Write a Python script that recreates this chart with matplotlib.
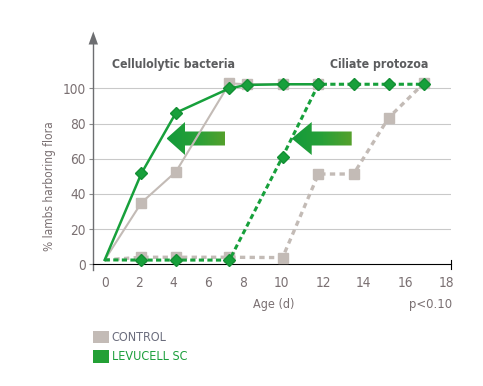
import numpy as np
import matplotlib
matplotlib.use("Agg")
import matplotlib.pyplot as plt
from matplotlib import font_manager as fm
from matplotlib.patches import Polygon, Patch
from matplotlib.transforms import Affine2D

# ---------------- data ----------------
CELL_CONTROL_X = [0, 2.14, 4.13, 7.23, 8.22, 10.06, 11.77]
CELL_CONTROL_Y = [2.5, 35, 52.6, 102.8, 102.3, 102.3, 102.3]
CELL_LEVU_X = [0, 2.14, 4.13, 7.23, 8.22, 10.06, 11.77]
CELL_LEVU_Y = [2.5, 51.7, 86.1, 100, 101.9, 102.3, 102.3]
CIL_CONTROL_X = [0, 2.14, 4.13, 7.23, 10.06, 11.77, 13.5, 15.2, 16.9]
CIL_CONTROL_Y = [2.5, 4, 4, 4, 3.8, 51.3, 51.3, 83.3, 102.8]
CIL_LEVU_X = [0, 2.14, 4.13, 7.23, 10.06, 11.77, 13.5, 15.2, 16.9]
CIL_LEVU_Y = [2.5, 2.4, 2.4, 2.4, 61.1, 102.3, 102.3, 102.3, 102.3]
X_TICKS = [0, 2, 4, 6, 8, 10, 12, 14, 16, 18]
Y_TICKS = [0, 20, 40, 60, 80, 100]
LEGEND_LABELS = ["CONTROL", "LEVUCELL SC"]
TITLE_LEFT = "Cellulolytic bacteria"
TITLE_RIGHT = "Ciliate protozoa"

# ---------------- style ----------------
W, H = 483, 386
GRAY = "#c3bbb6"
GREEN = "#17a03b"
GREEN_DARK = "#138f34"
TEXT = "#7a7072"
TITLE_C = "#5b5c5e"

# pick a narrow font if available
names = {f.name for f in fm.fontManager.ttflist}
stretches = {(f.name, f.stretch) for f in fm.fontManager.ttflist}
FONT = dict(family="DejaVu Sans")
if "Liberation Sans Narrow" in names:
    FONT = dict(family="Liberation Sans Narrow")
elif any(n == "DejaVu Sans" and s == "condensed" for n, s in stretches):
    FONT = dict(family="DejaVu Sans", stretch="condensed")
elif "Roboto Condensed" in names:
    FONT = dict(family="Roboto Condensed")

# tick positions in the reference are not evenly spaced: piecewise scale
TICK_PX = np.array([104.7, 139, 173.7, 208.3, 242.7, 281.3, 323.3, 363.7, 405.3, 446.3])
TV = np.array(X_TICKS, float)


def fwd(x):
    x = np.asarray(x, float)
    s0 = (TICK_PX[1] - TICK_PX[0]) / (TV[1] - TV[0])
    s1 = (TICK_PX[-1] - TICK_PX[-2]) / (TV[-1] - TV[-2])
    return np.where(x < TV[0], TICK_PX[0] + (x - TV[0]) * s0,
                    np.where(x > TV[-1], TICK_PX[-1] + (x - TV[-1]) * s1,
                             np.interp(x, TV, TICK_PX)))


def inv(p):
    p = np.asarray(p, float)
    s0 = (TICK_PX[1] - TICK_PX[0]) / (TV[1] - TV[0])
    s1 = (TICK_PX[-1] - TICK_PX[-2]) / (TV[-1] - TV[-2])
    return np.where(p < TICK_PX[0], TV[0] + (p - TICK_PX[0]) / s0,
                    np.where(p > TICK_PX[-1], TV[-1] + (p - TICK_PX[-1]) / s1,
                             np.interp(p, TICK_PX, TV)))


fig = plt.figure(figsize=(W / 100, H / 100), dpi=100)
ax_l, ax_r, ax_b, ax_t = 93.3, 451, 264.3, 44
ax = fig.add_axes([ax_l / W, (H - ax_b) / H, (ax_r - ax_l) / W, (ax_b - ax_t) / H])
ax.set_xscale("function", functions=(fwd, inv))

# pixel transform (top-left origin)
PIX = Affine2D().scale(1 / W, -1 / H).translate(0, 1) + fig.transFigure

# grid
for y in Y_TICKS[1:]:
    ax.axhline(y, color="#c9c9c9", lw=0.8, zorder=1)


# arrows with gradient
def grad_arrow(tip, back, tail, yc, hh=16.5, sh=7):
    pts = [(tip, yc), (back, yc - hh), (back, yc - sh), (tail, yc - sh),
           (tail, yc + sh), (back, yc + sh), (back, yc + hh)]
    poly = Polygon(pts, closed=True, transform=PIX, facecolor="none",
                   edgecolor="none")
    ax.add_patch(poly)
    grad = np.linspace(0, 1, 100)[None, :]
    cmap = matplotlib.colors.LinearSegmentedColormap.from_list(
        "g", ["#139a3a", "#27a038", "#55a02c"])
    im = ax.imshow(grad, cmap=cmap, aspect="auto",
                   extent=(tip, tail, yc + hh, yc - hh), transform=PIX,
                   zorder=2, interpolation="bilinear")
    im.set_clip_path(poly)


grad_arrow(166.5, 185, 225, 138.5)
grad_arrow(291.7, 311.7, 351.7, 138.5)
ax.set_xlim(inv(ax_l), inv(ax_r))
ax.set_ylim(0, (ax_b - ax_t) / 1.76)

# series
ax.plot(CELL_CONTROL_X, CELL_CONTROL_Y, color=GRAY, lw=1.5, marker="s",
        ms=6.7, mfc=GRAY, mec=GRAY, markevery=list(range(1, len(CELL_CONTROL_X))),
        zorder=3, clip_on=False)
ln = ax.plot(CIL_CONTROL_X, CIL_CONTROL_Y, color=GRAY, lw=2.4, marker="s",
             ms=6.7, mfc=GRAY, mec=GRAY, markevery=list(range(1, len(CIL_CONTROL_X))),
             zorder=3, clip_on=False)[0]
ln.set_dashes((1.6, 1.3))
ax.plot(CELL_LEVU_X, CELL_LEVU_Y, color=GREEN, lw=1.8, marker="D",
        ms=5.8, mfc=GREEN, mec=GREEN_DARK, markevery=list(range(1, len(CELL_LEVU_X))),
        zorder=5, clip_on=False)
ln = ax.plot(CIL_LEVU_X, CIL_LEVU_Y, color=GREEN, lw=2.2, marker="D",
             ms=5.8, mfc=GREEN, mec=GREEN_DARK, markevery=list(range(1, len(CIL_LEVU_X))),
             zorder=4, clip_on=False)[0]
ln.set_dashes((1.7, 1.1))

# axes styling
for s in ["top", "right"]:
    ax.spines[s].set_visible(False)
ax.spines["bottom"].set_color("black")
ax.spines["bottom"].set_linewidth(0.8)
ax.spines["left"].set_color("#6d6e71")
ax.spines["left"].set_linewidth(1.0)
ax.spines["left"].set_bounds(-3.4, (ax_b - ax_t) / 1.76)
ax.add_patch(Polygon([(88.6, 44.5), (98.0, 44.5), (93.3, 31.5)], closed=True,
                     transform=PIX, facecolor="#6d6e71", edgecolor="none",
                     clip_on=False))
ax.plot([451, 451], [259.5, 268.5], color="black", lw=0.8, transform=PIX,
        clip_on=False)

ax.set_xticks(X_TICKS)
ax.set_xticklabels([str(v) for v in X_TICKS])
ax.set_yticks(Y_TICKS)
ax.set_yticklabels([str(v) for v in Y_TICKS])
ax.xaxis.set_minor_locator(matplotlib.ticker.NullLocator())
ax.tick_params(axis="x", length=0, pad=8.5, labelcolor=TEXT)
ax.tick_params(axis="y", length=3, width=0.8, color="#8a8a8a", pad=2.5,
               labelcolor=TEXT)
for t in ax.get_xticklabels() + ax.get_yticklabels():
    t.set_fontproperties(fm.FontProperties(size=9.8, **FONT))

fig.text(49 / W, 1 - 186.5 / H, "% lambs harboring flora", rotation=90,
         ha="center", va="center", color=TEXT, fontsize=8.6, **FONT)
fig.text(273.3 / W, 1 - 304.3 / H, "Age (d)", ha="center", va="center",
         color=TEXT, fontsize=9, **FONT)
fig.text(451.7 / W, 1 - 304.3 / H, "p<0.10", ha="right", va="center",
         color=TEXT, fontsize=9.4, **FONT)
fig.text(173.3 / W, 1 - 64.3 / H, TITLE_LEFT, ha="center", va="center",
         color=TITLE_C, fontsize=8.8, fontweight="bold", **FONT)
fig.text(379.5 / W, 1 - 64.3 / H, TITLE_RIGHT, ha="center", va="center",
         color=TITLE_C, fontsize=8.8, fontweight="bold", **FONT)

# legend
LFS = 9
handles = [Patch(facecolor=GRAY, edgecolor="none"),
           Patch(facecolor="#23a035", edgecolor="none")]
leg = fig.legend(handles, LEGEND_LABELS, loc="upper left",
                 bbox_to_anchor=(93 / W, 1 - 330.5 / H), frameon=False,
                 handlelength=16 / (LFS * 100 / 72),
                 handleheight=15 / (LFS * 100 / 72),
                 handletextpad=0.2, borderaxespad=0, borderpad=0,
                 labelspacing=0.45,
                 prop=fm.FontProperties(size=LFS, **FONT))
leg.get_texts()[0].set_color("#6a6c7c")
leg.get_texts()[1].set_color("#1a9e3a")

fig.savefig("out.png", dpi=100)
